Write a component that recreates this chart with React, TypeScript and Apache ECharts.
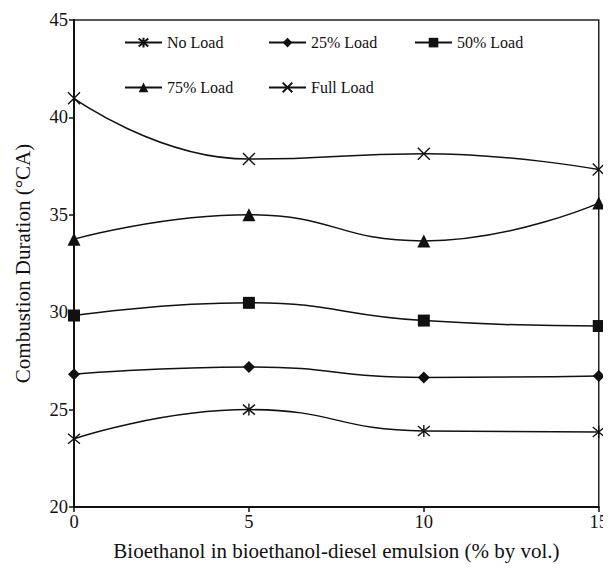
import React, { useEffect, useRef } from "react";
import * as echarts from "echarts";

const xValues = [0, 5, 10, 15];
const seriesNames = ["No Load", "25% Load", "50% Load", "75% Load", "Full Load"];
const noLoad = [23.5, 25.0, 23.9, 23.85];
const load25 = [26.82, 27.19, 26.65, 26.73];
const load50 = [29.83, 30.48, 29.57, 29.29];
const load75 = [33.75, 35.0, 33.66, 35.6];
const fullLoad = [40.98, 37.86, 38.14, 37.32];
const xTicks = [0, 5, 10, 15];

const FONT = "'Liberation Serif', 'Times New Roman', serif";
const ASTERISK = "path://M0,0L10,10M10,0L0,10M5,-1L5,11";
const CROSS = "path://M0,0L10,10M10,0L0,10";

export default function App() {
  const ref = useRef<HTMLDivElement>(null);
  useEffect(() => {
    if (!ref.current) return;
    const chart = echarts.init(ref.current, undefined, { renderer: "svg" });
    const pair = (arr: number[]) => xValues.map((x, i) => [x, arr[i]]);
    const dataSets = [noLoad, load25, load50, load75, fullLoad];
    const symbols = [ASTERISK, "diamond", "rect", "triangle", CROSS];
    const sizes = [12, 12, 12, 13, 12];
    const stroked = [true, false, false, false, true];
    const legendPos = [
      { left: 124, top: 34.6 },
      { left: 268, top: 34.6 },
      { left: 414, top: 34.6 },
      { left: 124, top: 79.4 },
      { left: 268, top: 79.4 },
    ];
    chart.setOption({
      animation: false,
      backgroundColor: "#fff",
      textStyle: { fontFamily: FONT, color: "#000" },
      grid: {
        left: 74,
        right: 9,
        top: 20,
        bottom: 64,
        show: true,
        borderColor: "#222",
        borderWidth: 1.5,
        backgroundColor: "transparent",
      },
      legend: seriesNames.map((n, i) => ({
        data: [n],
        left: legendPos[i].left,
        top: legendPos[i].top,
        padding: 0,
        itemWidth: 37,
        itemHeight: 12,
        selectedMode: false,
        textStyle: { fontFamily: FONT, fontSize: 16, color: "#111", lineHeight: 16 },
      })),
      xAxis: {
        type: "value",
        min: 0,
        max: 15,
        interval: 5,
        name: "Bioethanol in bioethanol-diesel emulsion (% by vol.)",
        nameLocation: "middle",
        nameGap: 33,
        nameTextStyle: { fontFamily: FONT, fontSize: 21, color: "#111" },
        axisLine: { lineStyle: { color: "#111", width: 2 } },
        axisTick: { show: true, length: 5, lineStyle: { color: "#111", width: 1.5 } },
        axisLabel: {
          fontFamily: FONT,
          fontSize: 18.5,
          color: "#111",
          margin: 5,
          customValues: xTicks,
        },
        splitLine: { show: false },
      },
      yAxis: {
        type: "value",
        min: 20,
        max: 45,
        interval: 5,
        name: "Combustion Duration (°CA)",
        nameLocation: "middle",
        nameGap: 40.5,
        nameTextStyle: { fontFamily: FONT, fontSize: 21, color: "#111" },
        axisLine: { show: true, lineStyle: { color: "#111", width: 2 } },
        axisTick: { show: true, length: 5, lineStyle: { color: "#111", width: 1.5 } },
        axisLabel: { fontFamily: FONT, fontSize: 18.5, color: "#111", margin: 6 },
        splitLine: { show: false },
      },
      series: seriesNames.map((n, i) => ({
        name: n,
        type: "line",
        data: pair(dataSets[i]),
        smooth: 0.5,
        symbol: symbols[i],
        symbolSize: sizes[i],
        showSymbol: true,
        lineStyle: { color: "#111", width: 1.5 },
        itemStyle: stroked[i]
          ? { color: "#111", borderColor: "#111", borderWidth: 1.4 }
          : { color: "#111", borderWidth: 0 },
        z: 3,
      })),
    });
    return () => chart.dispose();
  }, []);
  return <div ref={ref} style={{ width: 611, height: 571, margin: -8 }} />;
}
